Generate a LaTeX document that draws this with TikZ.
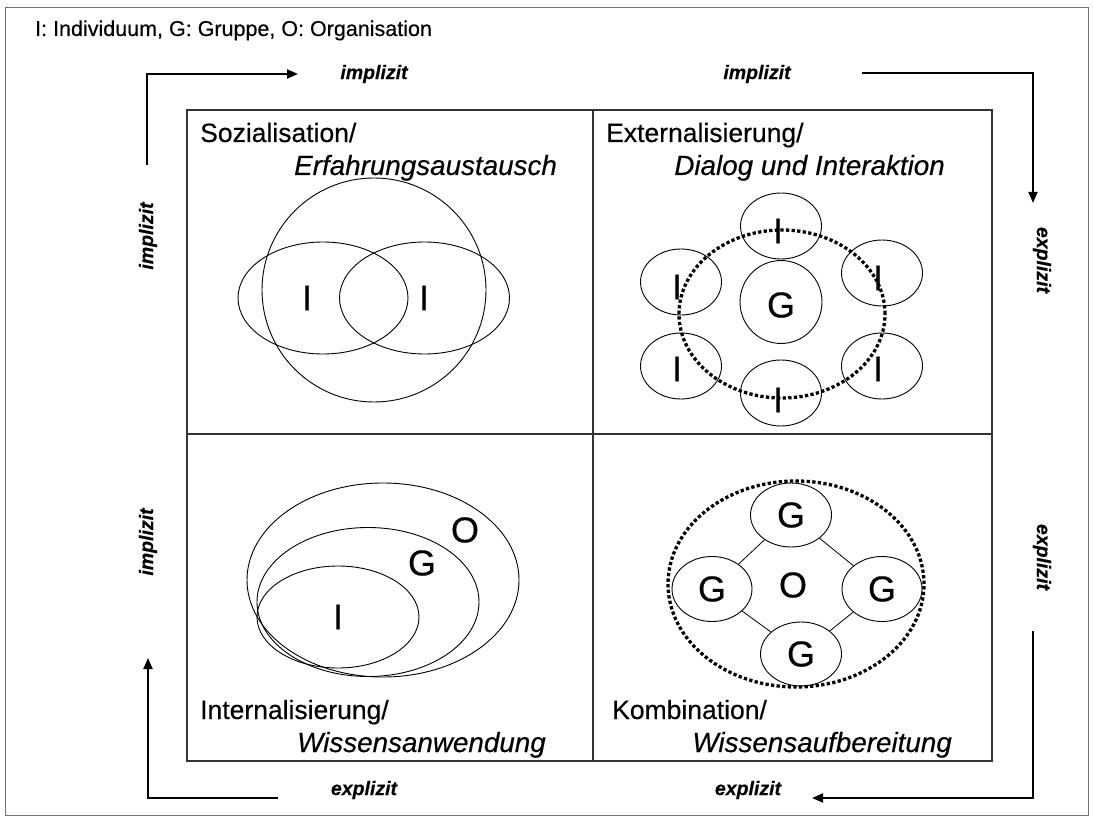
\documentclass[tikz,border=0pt]{standalone}
\usepackage{fontspec}
\setmainfont{Liberation Sans}[FakeBold=0.35]
\usetikzlibrary{arrows.meta,shapes.geometric}
\begin{document}
\begin{tikzpicture}[x=1pt,y=-1pt,
  frame/.style={draw=black!55,line width=0.9pt},
  grid/.style={draw=black!80,line width=1.3pt},
  flow/.style={draw=black,line width=2pt,-{Triangle[length=11pt,width=9pt]}},
  side/.style={font=\fontsize{19.5}{22}\selectfont\bfseries\itshape,inner sep=0pt},
  head/.style={font=\fontsize{21.5}{25}\selectfont,inner sep=0pt,anchor=base west},
  title/.style={font=\fontsize{26.5}{32}\selectfont,inner sep=0pt},
  subtitle/.style={font=\fontsize{27.8}{32}\selectfont\itshape,inner sep=0pt},
  letter/.style={font=\fontsize{36}{40}\selectfont,inner sep=0pt},
  oval/.style={draw,ellipse,line width=0.9pt,inner sep=0pt,font=\fontsize{36}{40}\selectfont},
  dots/.style={draw,ellipse,line width=3.3pt,dash pattern=on 3.3pt off 2.3pt,inner sep=0pt},
  link/.style={draw,line width=0.8pt},
]
\useasboundingbox (0,0) rectangle (1093,821);
\draw[frame] (5,7) rectangle (1088,815);
\node[head] (legend) at (35,36) {I: Individuum, G: Gruppe, O: Organisation};

% grid
\draw[grid] (187,110) rectangle (992,761);
\draw[grid] (593,110) -- (593,761);
\draw[grid] (187,434) -- (992,434);

% arrows
\coordinate (a1s) at (147,165); \coordinate (a1c) at (147,74); \coordinate (a1e) at (298,74);
\draw[flow] (a1s) -- (a1c) -- (a1e);
\coordinate (a2s) at (862,73); \coordinate (a2c) at (1033,73); \coordinate (a2e) at (1033,203);
\draw[flow] (a2s) -- (a2c) -- (a2e);
\coordinate (a3s) at (1033,631); \coordinate (a3c) at (1033,798); \coordinate (a3e) at (812,798);
\draw[flow] (a3s) -- (a3c) -- (a3e);
\coordinate (a4s) at (278,798); \coordinate (a4c) at (148,798); \coordinate (a4e) at (148,658);
\draw[flow] (a4s) -- (a4c) -- (a4e);

% side labels
\node[side] (t1) at (374,74) {implizit};
\node[side] (t2) at (757,74) {implizit};
\node[side,rotate=90] (l1) at (148,236) {implizit};
\node[side,rotate=90] (l2) at (148,542) {implizit};
\node[side,rotate=-90] (r1) at (1042,260) {explizit};
\node[side,rotate=-90] (r2) at (1042,557) {explizit};
\node[side] (b1) at (364,790) {explizit};
\node[side] (b2) at (748,790) {explizit};

% quadrant titles
\node[title,anchor=base west] (q1a) at (200,142) {Sozialisation/};
\node[subtitle,anchor=base west] (q1b) at (294,175) {Erfahrungsaustausch};
\node[title,anchor=base west] (q2a) at (606,142) {Externalisierung/};
\node[subtitle,anchor=base east] (q2b) at (945,175) {Dialog und Interaktion};
\node[title,anchor=base west] (q3a) at (200,719) {Internalisierung/};
\node[subtitle,anchor=base west] (q3b) at (297,752) {Wissensanwendung};
\node[title,anchor=base west] (q4a) at (612,719) {Kombination/};
\node[subtitle,anchor=base east] (q4b) at (952,752) {Wissensaufbereitung};

% quadrant 1: Sozialisation
\node[oval,minimum width=224pt,minimum height=224pt] (s0) at (374,290) {};
\node[oval,minimum width=170pt,minimum height=112pt] (s1) at (323,298) {};
\node[oval,minimum width=170pt,minimum height=112pt] (s2) at (424.5,298) {};
\node[letter] (s1l) at (307,298) {I};
\node[letter] (s2l) at (424,298) {I};

% quadrant 2: Externalisierung
\node[oval,minimum width=81pt,minimum height=66pt] (e1) at (781,226) {};
\node[oval,minimum width=81pt,minimum height=66pt] (e2) at (681,282) {};
\node[oval,minimum width=81pt,minimum height=66pt] (e3) at (681,366) {};
\node[oval,minimum width=81pt,minimum height=66pt] (e4) at (882,273) {};
\node[oval,minimum width=81pt,minimum height=66pt] (e5) at (882,366) {};
\node[oval,minimum width=81pt,minimum height=66pt] (e6) at (781,393) {};
\node[oval,minimum width=82pt,minimum height=83pt] (eg) at (781,302) {};
\node[dots,minimum width=206pt,minimum height=168pt] (ed) at (782,314) {};
\node[letter] (e1l) at (778,231) {I};
\node[letter] (e2l) at (677,287) {I};
\node[letter] (e3l) at (677,369) {I};
\node[letter] (e4l) at (878,278) {I};
\node[letter] (e5l) at (878,369) {I};
\node[letter] (e6l) at (778,400) {I};
\node[letter] (egl) at (781,305) {G};

% quadrant 3: Internalisierung
\node[oval,minimum width=272pt,minimum height=194pt] (i0) at (383,580) {};
\node[oval,minimum width=222pt,minimum height=149pt] (i1) at (368,602) {};
\node[oval,minimum width=162pt,minimum height=102pt] (i2) at (338,617) {};
\node[letter] (i0l) at (465,530) {O};
\node[letter] (i1l) at (422,563) {G};
\node[letter] (i2l) at (338,617) {I};

% quadrant 4: Kombination
\node[dots,minimum width=256pt,minimum height=206pt] (kd) at (796,584) {};
\node[oval,minimum width=81pt,minimum height=64pt] (kt) at (791,515) {G};
\node[oval,minimum width=80pt,minimum height=65pt] (kl) at (712,589) {G};
\node[oval,minimum width=80pt,minimum height=65pt] (kr) at (882,589) {G};
\node[oval,minimum width=81pt,minimum height=64pt] (kb) at (801,654) {G};
\node[letter] (ko) at (793,585) {O};
\draw[link] (kt) -- (kl);
\draw[link] (kt) -- (kr);
\draw[link] (kl) -- (kb);
\draw[link] (kr) -- (kb);
\end{tikzpicture}
\end{document}
